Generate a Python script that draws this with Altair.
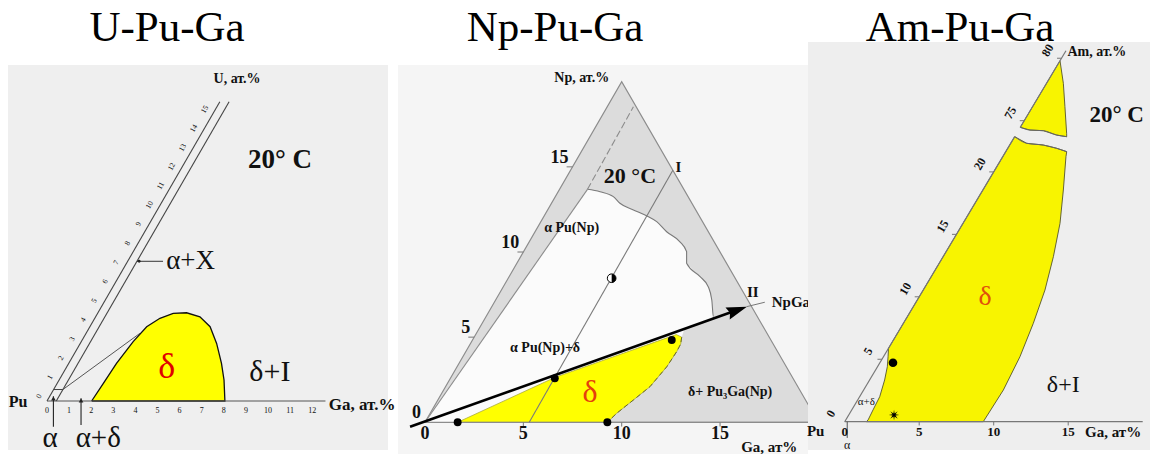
import math
import altair as alt
import pandas as pd

W, H = 1155, 454
S60 = math.sin(math.radians(60))
SERIF = "Liberation Serif"


# ---- panel coordinate systems: composition (at.%) -> canvas position ----
def p1(ga, u):
    """U-Pu-Ga corner: Ga along the base, U along the 60 degree side."""
    return 47 + 22.1 * (ga + 0.5 * u), 401 - 22.1 * S60 * u


def p2(ga, npc):
    """Np-Pu-Ga ternary corner, 0..20 at.%."""
    return 425 + 19.67 * (ga + 0.5 * npc), 422.3 - 17.03 * npc


AM_GAP = 50.9  # the Am axis jumps from ~23 at.% straight to ~74 at.%


def p3(ga, am):
    d = am - AM_GAP if am > 50 else am
    return 844.7 + 14.9 * ga + 7.45 * d, 421.7 - 12.49 * d


# ---------------- layout ----------------
TITLES = ["U-Pu-Ga", "Np-Pu-Ga", "Am-Pu-Ga"]
TITLE_X = [167, 555, 960]
TITLE_SIZE = [43, 43, 43]
PANEL_X0 = [8, 398, 808]
PANEL_X1 = [388, 808, 1150]
PANEL_Y0 = [65, 65, 42]
PANEL_Y1 = [450, 454, 450]
PANEL_FILL = ["#efefef", "#f5f5f5", "#eeeeee"]

# ---------------- U-Pu-Ga ----------------
U_DELTA_GA = [2.02, 2.09, 2.16, 2.35, 2.57, 2.95, 3.42, 4.01, 4.72, 5.44, 6.17, 6.91, 7.46, 8.05]
U_DELTA_U = [0.0, 0.92, 1.97, 3.10, 3.88, 4.32, 4.58, 4.61, 4.40, 3.88, 3.01, 1.97, 1.10, 0.0]
U_AXIS_TOP = 15.64
U_STRIP_GA = 0.42
U_ALPHA_U = 0.6
U_AD_GA = [0.42, 2.44]
U_AD_U = [0.6, 3.54]
U_GA_END = 12.6
U_GA_TICKS = list(range(0, 13))
U_U_TICKS = list(range(0, 16))
U_ARROW_GA = [0.29, 1.54]

# ---------------- Np-Pu-Ga ----------------
NP_TRI_GA = [0, 20, 0]
NP_TRI_NP = [0, 0, 20]
NP_INNER_GA = [0.0, 1.42]
NP_INNER_NP = [0.0, 13.68]
NP_INNER_DASH_GA = [1.42, 1.33]
NP_INNER_DASH_NP = [13.68, 18.53]
NP_WAVY_GA = [1.42, 2.13, 2.95, 3.48, 4.36, 5.20, 5.89, 6.69, 7.66, 8.29, 8.63, 9.71, 10.42, 10.99, 11.56, 11.60]
NP_WAVY_NP = [13.68, 13.54, 13.25, 12.86, 12.47, 12.13, 11.78, 11.19, 10.60, 10.02, 9.34, 8.55, 7.96, 7.18, 6.20, 6.09]
NP_DELTA_LEFT_GA = [1.66, 5.31]
NP_DELTA_LEFT_NP = [0.0, 2.65]
NP_DELTA_RIGHT_GA = [10.2, 10.55, 10.7, 10.72, 10.66, 10.39, 9.94, 9.48, 9.27]
NP_DELTA_RIGHT_NP = [5.15, 5.0, 4.6, 4.15, 3.26, 2.09, 1.31, 0.53, 0.0]
NP_ARROW_GA = [-0.63, 12.58]
NP_ARROW_NP = [-0.26, 6.59]
NP_HEAD = (12.58, 6.59)
NP_TAIL_GA = [12.96, 13.75]
NP_TAIL_NP = [6.79, 7.05]
NP_I_GA = [5.3, 5.2]
NP_I_NP = [0.0, 14.8]
NP_DOT_GA = [1.66, 5.31, 10.13, 9.27]
NP_DOT_NP = [0.0, 2.58, 4.83, 0.0]
NP_HALF = (5.26, 8.46)
NP_NP_TICKS = [0, 5, 10, 15]
NP_GA_TICKS = [0, 5, 10, 15]

# ---------------- Am-Pu-Ga ----------------
AM_LOW_GA = [1.45, 1.5, 1.43, 1.35, 1.01, 0.66, 0.31, 0.0, 0.0, 1.07, 2.25, 3.28, 4.09,
             4.24, 5.40, 6.51, 7.40, 8.17, 8.72, 9.16, 9.38, 9.30]
AM_LOW_AM = [0.0, 0.14, 0.94, 2.0, 3.34, 4.40, 5.20, 5.88, 22.82, 22.29, 22.15, 21.89, 21.62,
             21.22, 18.55, 15.88, 13.21, 10.54, 7.88, 5.2, 2.54, 0.0]
AM_HIGH_GA = [0.0, 0.76, 1.68, 2.75, 3.49, 3.35, 2.17, 1.13, 0.0]
AM_HIGH_AM = [74.47, 74.25, 74.2, 73.85, 73.72, 73.99, 76.12, 77.99, 79.8]
AM_TICKS = [0, 5, 10, 15, 20, 75, 80]
AM_GA_TICKS = [0, 5, 10, 15]
AM_DOT = (0.88, 4.72)
AM_STAR = (3.04, 0.54)

# ---------------- helpers ----------------
XS = alt.Scale(domain=[0, W], nice=False, zero=False)
YS = alt.Scale(domain=[0, H], nice=False, zero=False, reverse=True)
X = alt.X("px:Q", scale=XS, axis=None)
Y = alt.Y("py:Q", scale=YS, axis=None)


def table(fn, a, b):
    rows = []
    for i, (p, q) in enumerate(zip(a, b)):
        x, y = fn(p, q)
        rows.append({"px": x, "py": y, "i": i})
    return pd.DataFrame(rows)


def path(fn, a, b, closed=False, **mark):
    a, b = list(a), list(b)
    if closed:
        a, b = a + a[:1], b + b[:1]
    return alt.Chart(table(fn, a, b)).mark_line(**mark).encode(x=X, y=Y, order="i:Q")


def segs(fn, a0, b0, a1, b1, **mark):
    rows = []
    for g, (p0, q0, p_1, q_1) in enumerate(zip(a0, b0, a1, b1)):
        for i, (p, q) in enumerate([(p0, q0), (p_1, q_1)]):
            x, y = fn(p, q)
            rows.append({"px": x, "py": y, "i": i, "g": g})
    return alt.Chart(pd.DataFrame(rows)).mark_line(**mark).encode(
        x=X, y=Y, order="i:Q", detail="g:N")


def texts(fn, a, b, labels, **mark):
    df = table(fn, a, b)
    df["t"] = labels
    mark.setdefault("font", SERIF)
    mark.setdefault("color", "#111111")
    return alt.Chart(df).mark_text(**mark).encode(x=X, y=Y, text="t:N")


def points(fn, a, b, **mark):
    return alt.Chart(table(fn, a, b)).mark_point(**mark).encode(x=X, y=Y)


def ident(a, b):
    return a, b


def star_path(n=8, r_in=0.3):
    pts = []
    for k in range(2 * n):
        r = 1.0 if k % 2 == 0 else r_in
        t = math.pi * k / n - math.pi / 2
        pts.append(f"{r * math.cos(t):.3f},{r * math.sin(t):.3f}")
    return "M" + " L".join(pts) + " Z"


layers = []

# titles (panel 3 background meets the bottom of its title)
for t, x, s in zip(TITLES, TITLE_X, TITLE_SIZE):
    layers.append(texts(ident, [x], [41], [t], fontSize=s, baseline="alphabetic",
                        align="center", color="#000000"))

bg = pd.DataFrame({"x0": PANEL_X0, "x1": PANEL_X1, "y0": PANEL_Y0, "y1": PANEL_Y1,
                   "c": PANEL_FILL})


def panel_bg(k):
    return alt.Chart(bg.iloc[[k]]).mark_rect().encode(
        x=alt.X("x0:Q", scale=XS, axis=None), x2="x1:Q",
        y=alt.Y("y0:Q", scale=YS, axis=None), y2="y1:Q",
        color=alt.Color("c:N", scale=None))


# ======== U-Pu-Ga ========
layers.append(panel_bg(0))
layers.append(path(p1, U_DELTA_GA, U_DELTA_U, closed=True, fill="#ffff00",
                   stroke="#111111", strokeWidth=1.3))
layers.append(path(p1, [0, U_GA_END], [0, 0], stroke="#555555", strokeWidth=1.2))
layers.append(path(p1, [0, 0], [0, U_AXIS_TOP], stroke="#444444", strokeWidth=1.1))
layers.append(path(p1, [U_STRIP_GA, U_STRIP_GA], [0.0, U_AXIS_TOP], stroke="#444444", strokeWidth=1.1))
layers.append(path(p1, [0, U_STRIP_GA], [U_ALPHA_U, U_ALPHA_U], stroke="#444444", strokeWidth=1.0))
layers.append(path(p1, U_AD_GA, U_AD_U, stroke="#555555", strokeWidth=1.0))
# alpha + X leader
layers.append(path(p1, [U_STRIP_GA, 1.6], [7.3, 7.3], stroke="#333333", strokeWidth=1.0))
layers.append(points(p1, [U_STRIP_GA + 0.1], [7.3], shape="circle", size=8, filled=True,
                     color="#222222", opacity=1))
# arrows below the Ga axis (vertical on screen)
a_top = [0.25, 0.15]
a_bot = [-1.35, -1.25]
layers.append(segs(p1, [g - 0.5 * t for g, t in zip(U_ARROW_GA, a_top)], a_top,
                   [g - 0.5 * t for g, t in zip(U_ARROW_GA, a_bot)], a_bot,
                   stroke="#222222", strokeWidth=1.1))
layers.append(points(p1, [g - 0.5 * (t - 0.12) for g, t in zip(U_ARROW_GA, a_top)],
                     [t - 0.12 for t in a_top], shape="triangle-up", size=22, filled=True,
                     color="#222222", opacity=1))
# tick labels
layers.append(texts(p1, U_GA_TICKS, [0] * len(U_GA_TICKS), [str(v) for v in U_GA_TICKS],
                    fontSize=8, dy=10, align="center", baseline="middle"))
layers.append(texts(p1, [0] * len(U_U_TICKS), U_U_TICKS, [str(v) for v in U_U_TICKS],
                    fontSize=7.5, angle=300, dy=-9, align="center", baseline="middle"))
# annotations
layers.append(texts(p1, [0.2], [16.8], ["U, ат.%"], fontSize=14, fontWeight="bold",
                    align="center", baseline="middle"))
layers.append(texts(p1, [4.25], [12.59], ["20° C"], fontSize=27, fontWeight="bold",
                    align="center", baseline="middle"))
layers.append(texts(p1, [1.65], [7.3], ["α+X"], fontSize=27, dx=2,
                    align="left", baseline="middle"))
layers.append(texts(p1, [9.32], [1.53], ["δ+I"], fontSize=30,
                    align="center", baseline="middle"))
layers.append(texts(p1, [4.52], [1.79], ["δ"], fontSize=36, color="#e00000",
                    align="center", baseline="middle"))
layers.append(texts(p1, [0], [0], ["Pu"], fontSize=16, fontWeight="bold", dx=-29, dy=1,
                    align="center", baseline="middle"))
layers.append(texts(p1, [12.75], [0], ["Ga, ат.%"], fontSize=17, fontWeight="bold", dy=4,
                    align="left", baseline="middle"))
layers.append(texts(p1, [0.14, 2.32], [0, 0], ["α", "α+δ"], fontSize=29, dy=37,
                    align="center", baseline="middle"))

# ======== Np-Pu-Ga ========
layers.append(panel_bg(1))
layers.append(path(p2, NP_TRI_GA, NP_TRI_NP, closed=True, fill="#dcdcdc", stroke="#8c8c8c",
                   strokeWidth=1.2))
white_ga = NP_INNER_GA + NP_WAVY_GA[1:] + [10.45] + NP_DELTA_RIGHT_GA[1:] + [0.0]
white_np = NP_INNER_NP + NP_WAVY_NP[1:] + [5.49] + NP_DELTA_RIGHT_NP[1:] + [0.0]
layers.append(path(p2, white_ga, white_np, fill="#fbfbfb", strokeOpacity=0))
layers.append(path(p2, NP_DELTA_LEFT_GA + NP_DELTA_RIGHT_GA, NP_DELTA_LEFT_NP + NP_DELTA_RIGHT_NP,
                   closed=True, fill="#ffff00", stroke="#a9a93c", strokeWidth=0.8))
layers.append(path(p2, NP_DELTA_RIGHT_GA[1:], NP_DELTA_RIGHT_NP[1:], stroke="#6a6a30",
                   strokeWidth=1.0, strokeDash=[5, 3]))
layers.append(path(p2, NP_TRI_GA[:2], NP_TRI_NP[:2], stroke="#8c8c8c", strokeWidth=1.3))
layers.append(path(p2, NP_INNER_GA, NP_INNER_NP, stroke="#8c8c8c", strokeWidth=1.1))
layers.append(path(p2, NP_INNER_DASH_GA, NP_INNER_DASH_NP, stroke="#8c8c8c", strokeWidth=1.1,
                   strokeDash=[7, 3]))
layers.append(path(p2, NP_WAVY_GA, NP_WAVY_NP, stroke="#7a7a7a", strokeWidth=1.1,
                   interpolate="monotone"))
layers.append(path(p2, NP_I_GA, NP_I_NP, stroke="#7a7a7a", strokeWidth=1.1))
layers.append(path(p2, NP_TAIL_GA, NP_TAIL_NP, stroke="#777777", strokeWidth=1.0))
# Np and Ga ticks
layers.append(segs(p2, [0] * 3, NP_NP_TICKS[1:], [-0.3] * 3, NP_NP_TICKS[1:],
                   stroke="#777777", strokeWidth=1))
layers.append(segs(p2, NP_GA_TICKS[1:], [0] * 3, [v + 0.125 for v in NP_GA_TICKS[1:]],
                   [-0.25] * 3, stroke="#777777", strokeWidth=1))
# heavy arrow along the pseudo-binary section
layers.append(path(p2, NP_ARROW_GA, NP_ARROW_NP, stroke="#000000", strokeWidth=2.6))
layers.append(points(p2, [NP_HEAD[0]], [NP_HEAD[1]], shape="M1,0 L-1,-0.62 L-0.75,0 L-1,0.62 Z",
                     size=420, angle=340.4, filled=True, color="#000000", opacity=1))
layers.append(points(p2, NP_DOT_GA, NP_DOT_NP, shape="circle", size=62, filled=True,
                     color="#000000", opacity=1))
layers.append(points(p2, [NP_HALF[0]], [NP_HALF[1]], shape="circle", size=75, filled=True,
                     fill="#ffffff", stroke="#000000", strokeWidth=1, opacity=1))
layers.append(points(p2, [NP_HALF[0]], [NP_HALF[1]], shape="M0,-1 A1,1 0 0,1 0,1 Z", size=75,
                     filled=True, color="#000000", opacity=1))
# labels
layers.append(texts(p2, [0] * 4, NP_NP_TICKS, [str(v) for v in NP_NP_TICKS], fontSize=18,
                    fontWeight="bold", dx=-4, dy=-9, align="right", baseline="middle"))
layers.append(texts(p2, NP_GA_TICKS, [0] * 4, [str(v) for v in NP_GA_TICKS], fontSize=18,
                    fontWeight="bold", dy=12, align="center", baseline="middle"))
layers.append(texts(p2, [0], [20], ["Np, ат.%"], fontSize=14, fontWeight="bold", dx=-40, dy=-4,
                    align="center", baseline="middle"))
layers.append(texts(p2, [17.5], [0], ["Ga, ат%"], fontSize=15, fontWeight="bold", dy=25,
                    align="center", baseline="middle"))
layers.append(texts(p2, [3.2], [14.44], ["20 °C"], fontSize=22, fontWeight="bold",
                    align="center", baseline="middle"))
layers.append(texts(p2, [5.38, 12.83], [15.0, 7.67], ["I", "II"], fontSize=15, fontWeight="bold",
                    align="center", baseline="middle"))
layers.append(texts(p2, [14.09], [7.08], ["NpGa"], fontSize=15, fontWeight="bold",
                    align="left", baseline="middle"))
layers.append(texts(p2, [1.76, 3.93, 14.61], [11.39, 4.35, 1.80],
                    ["α Pu(Np)", "α Pu(Np)+δ", "δ+ Pu₃Ga(Np)"], fontSize=14, fontWeight="bold",
                    align="center", baseline="middle"))
layers.append(texts(p2, [7.49], [1.80], ["δ"], fontSize=32, color="#e5400c",
                    align="center", baseline="middle"))

# ======== Am-Pu-Ga ========
layers.append(panel_bg(2))
layers.append(path(p3, AM_LOW_GA, AM_LOW_AM, closed=True, fill="#f8f400", stroke="#55552a",
                   strokeWidth=0.9))
layers.append(path(p3, AM_HIGH_GA, AM_HIGH_AM, closed=True, fill="#f8f400", stroke="#55552a",
                   strokeWidth=0.9))
layers.append(path(p3, AM_LOW_GA[8:13], AM_LOW_AM[8:13], stroke="#666666", strokeWidth=1.0,
                   interpolate="monotone"))
layers.append(path(p3, AM_HIGH_GA[:5], AM_HIGH_AM[:5], stroke="#666666", strokeWidth=1.0,
                   interpolate="monotone"))
layers.append(path(p3, [0, 20], [0, 0], stroke="#777777", strokeWidth=1.2))
layers.append(path(p3, [0, 0], [0, 22.82], stroke="#777777", strokeWidth=1.2))
layers.append(path(p3, [0, 0], [74.47, 80.6], stroke="#777777", strokeWidth=1.2))
layers.append(segs(p3, [0] * 6, AM_TICKS[1:], [-0.3] * 6, AM_TICKS[1:],
                   stroke="#777777", strokeWidth=1))
layers.append(segs(p3, AM_GA_TICKS[1:], [0] * 3, [v + 0.15 for v in AM_GA_TICKS[1:]],
                   [-0.3] * 3, stroke="#777777", strokeWidth=1))
layers.append(segs(p3, [0.17], [0], [0.82], [-1.3], stroke="#555555", strokeWidth=1))
layers.append(points(p3, [AM_DOT[0]], [AM_DOT[1]], shape="circle", size=75, filled=True,
                     color="#000000", opacity=1))
layers.append(points(p3, [AM_STAR[0]], [AM_STAR[1]], shape=star_path(), size=110, filled=True,
                     color="#000000", opacity=1))
layers.append(texts(p3, [0] * len(AM_TICKS), AM_TICKS, [str(v) for v in AM_TICKS], fontSize=12,
                    fontWeight="bold", angle=300, dy=-16, align="center", baseline="middle"))
layers.append(texts(p3, AM_GA_TICKS, [0] * 4, [str(v) for v in AM_GA_TICKS], fontSize=13,
                    fontWeight="bold", dy=10, align="center", baseline="middle"))
layers.append(texts(p3, [0], [80], ["Am, ат.%"], fontSize=14, fontWeight="bold", dx=6, dy=-6,
                    align="left", baseline="middle"))
layers.append(texts(p3, [16.13], [0], ["Ga, ат%"], fontSize=15, fontWeight="bold", dy=10,
                    align="left", baseline="middle"))
layers.append(texts(p3, [0], [0], ["Pu"], fontSize=15, fontWeight="bold", dx=-29, dy=9,
                    align="center", baseline="middle"))
layers.append(texts(p3, [0.17], [0], ["α"], fontSize=12, dy=23, align="center", baseline="middle"))
layers.append(texts(p3, [0.65], [1.6], ["α+δ"], fontSize=11, align="center", baseline="middle"))
layers.append(texts(p3, [5.98], [75.45], ["20° C"], fontSize=23, fontWeight="bold",
                    align="center", baseline="middle"))
layers.append(texts(p3, [4.42], [10.0], ["δ"], fontSize=28, color="#e0500c",
                    align="center", baseline="middle"))
layers.append(texts(p3, [13.2], [2.94], ["δ+I"], fontSize=24, align="center", baseline="middle"))

chart = alt.layer(*layers).properties(
    width=W, height=H, autosize=alt.AutoSizeParams(type="none"), padding=0,
    background="#ffffff",
).configure_view(stroke=None)

chart.save("out.html", embed_options={"renderer": "svg", "actions": False})
